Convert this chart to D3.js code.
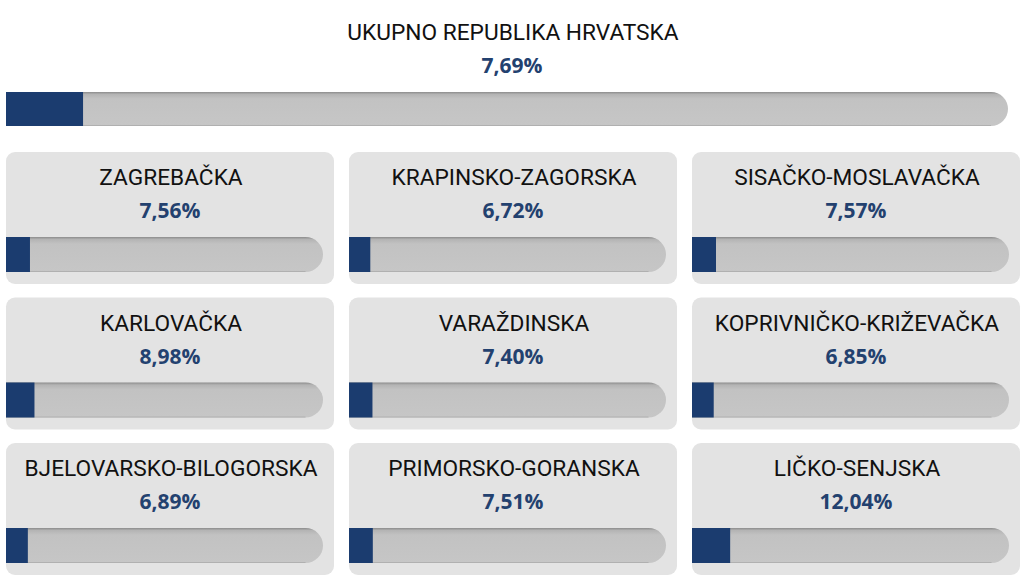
<!DOCTYPE html>
<html><head><meta charset="utf-8">
<script src="https://cdn.jsdelivr.net/npm/d3@7"></script>
<style>html,body{margin:0;padding:0;background:#fff;}svg{display:block;}</style>
</head><body>
<svg id="chart" width="1024" height="584"></svg>
<script>
const totalLabel = "UKUPNO REPUBLIKA HRVATSKA";
const totalValue = 7.69;
const counties = ["ZAGREBAČKA","KRAPINSKO-ZAGORSKA","SISAČKO-MOSLAVAČKA","KARLOVAČKA","VARAŽDINSKA","KOPRIVNIČKO-KRIŽEVAČKA","BJELOVARSKO-BILOGORSKA","PRIMORSKO-GORANSKA","LIČKO-SENJSKA"];
const values = [7.56,6.72,7.57,8.98,7.40,6.85,6.89,7.51,12.04];

const svg = d3.select("#chart");
const defs = svg.append("defs");
const g = defs.append("linearGradient").attr("id","track").attr("x1",0).attr("x2",0).attr("y1",0).attr("y2",1);
g.append("stop").attr("offset","0").attr("stop-color","#8c8c8c");
g.append("stop").attr("offset","0.07").attr("stop-color","#b4b4b4");
g.append("stop").attr("offset","0.2").attr("stop-color","#c2c2c2");
g.append("stop").attr("offset","1").attr("stop-color","#c6c6c6");

const fmt = v => d3.format(".2f")(v).replace(".", ",") + "%";
const fillColor = "#1b3c6f";
const valColor = "#23416f";

function trackPath(x0, y0, w, h){
  const r = h/2;
  return `M${x0},${y0}H${x0+w-r}A${r},${r} 0 0 1 ${x0+w-r},${y0+h}H${x0}Z`;
}
function drawBar(sel, x0, y0, w, h, v){
  const x = d3.scaleLinear().domain([0,100]).range([x0, x0+w]);
  sel.append("path").attr("d", trackPath(x0,y0,w,h)).attr("fill","url(#track)");
  sel.append("line").attr("x1",x0).attr("x2",x0+w-h/2).attr("y1",y0+h-0.5).attr("y2",y0+h-0.5).attr("stroke","#b0b0b0").attr("stroke-width",1);
  sel.append("rect").attr("x",x0).attr("y",y0).attr("width",x(v)-x0).attr("height",h).attr("fill",fillColor);
}

// Total
svg.append("text").attr("x",513).attr("y",40).attr("text-anchor","middle")
  .attr("font-family","Roboto").attr("font-weight",400).attr("font-size",22.7).attr("fill","#111").text(totalLabel);
svg.append("text").attr("x",512).attr("y",73).attr("text-anchor","middle")
  .attr("font-family","Open Sans").attr("font-weight",700).attr("font-size",21).attr("fill",valColor).text(fmt(totalValue));
drawBar(svg.append("g"), 6, 92, 1002, 34, totalValue);

// Panels
const colX = d3.scalePoint().domain([0,1,2]).range([6,692]);
const rowY = d3.scalePoint().domain([0,1,2]).range([152,443]);
const pw = 328, ph = 132;
counties.forEach((name,i)=>{
  const c = i%3, r = Math.floor(i/3);
  const px = colX(c), py = rowY(r);
  const p = svg.append("g");
  p.append("rect").attr("x",px).attr("y",py).attr("width",pw).attr("height",ph).attr("rx",9).attr("fill","#e3e3e3");
  p.append("text").attr("x",px+pw/2+1).attr("y",py+33).attr("text-anchor","middle")
    .attr("font-family","Roboto").attr("font-weight",400).attr("font-size",22.7).attr("fill","#111").text(name);
  p.append("text").attr("x",px+pw/2).attr("y",py+66).attr("text-anchor","middle")
    .attr("font-family","Open Sans").attr("font-weight",700).attr("font-size",21).attr("fill",valColor).text(fmt(values[i]));
  drawBar(p, px, py+85, 317, 35, values[i]);
});
</script>
</body></html>
